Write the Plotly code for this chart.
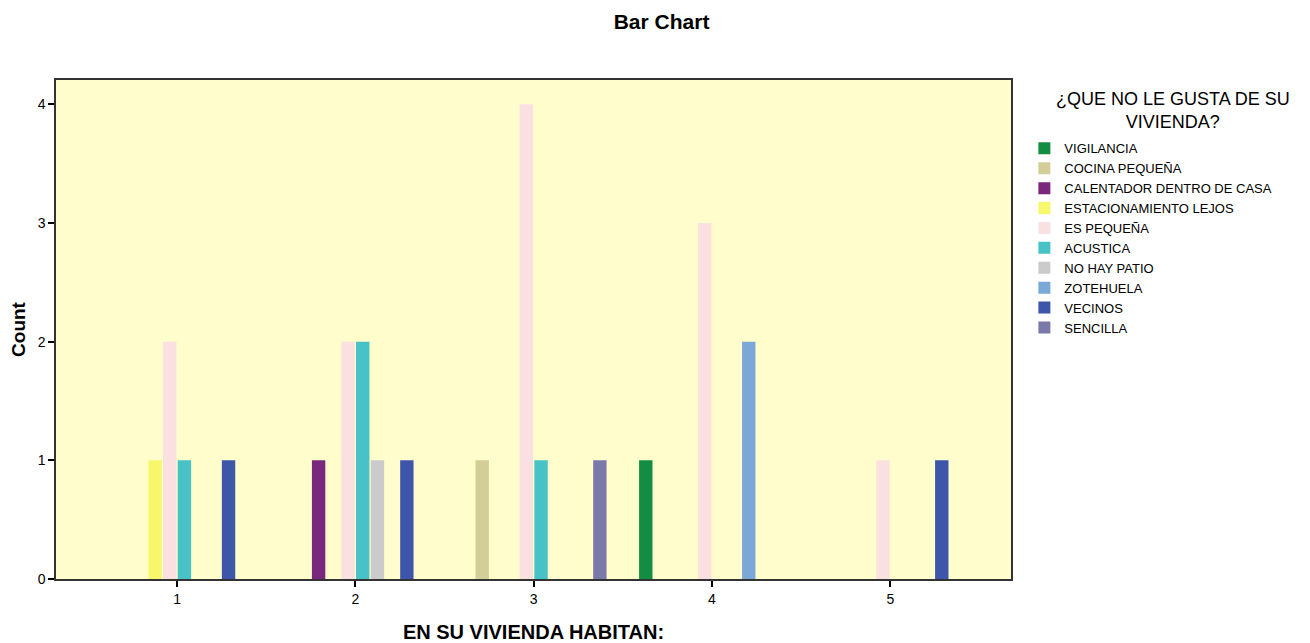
import plotly.graph_objects as go

categories = [1, 2, 3, 4, 5]
series_names = ["VIGILANCIA", "COCINA PEQUEÑA", "CALENTADOR DENTRO DE CASA",
                "ESTACIONAMIENTO LEJOS", "ES PEQUEÑA", "ACUSTICA", "NO HAY PATIO",
                "ZOTEHUELA", "VECINOS", "SENCILLA"]
vigilancia = [None, None, None, 1, None]
cocina_pequena = [None, None, 1, None, None]
calentador = [None, 1, None, None, None]
estacionamiento = [1, None, None, None, None]
es_pequena = [2, 2, 4, 3, 1]
acustica = [1, 2, 1, None, None]
no_hay_patio = [None, 1, None, None, None]
zotehuela = [None, None, None, 2, None]
vecinos = [1, 1, None, None, 1]
sencilla = [None, None, 1, None, None]
series_values = [vigilancia, cocina_pequena, calentador, estacionamiento, es_pequena,
                 acustica, no_hay_patio, zotehuela, vecinos, sencilla]
colors = ["#138d43", "#d3ce97", "#79287c", "#f8f76c", "#fbe0e2",
          "#47c2c6", "#cbcbcb", "#7ba9d7", "#3d56aa", "#7a79a9"]
y_ticks = [0, 1, 2, 3, 4]

FONT = "Liberation Sans, Arial, sans-serif"

fig = go.Figure()
for name, vals, col in zip(series_names, series_values, colors):
    fig.add_trace(go.Bar(x=categories, y=vals, name=name, marker_color=col,
                         marker_line_width=0))

fig.update_layout(
    width=1310, height=643,
    margin=dict(l=56, r=299, t=80, b=64, autoexpand=False),
    paper_bgcolor="white",
    plot_bgcolor="#fefdcb",
    barmode="group",
    bargap=0.175,
    bargroupgap=0.09,
    font=dict(family=FONT, size=14, color="black"),
    title=dict(text="<b>Bar Chart</b>", x=0.505, xanchor="center", y=0.966, yanchor="middle",
               xref="container", font=dict(size=21, family=FONT)),
    xaxis=dict(range=[0.321, 5.677], tickvals=categories, ticks="outside", ticklen=6,
               tickcolor="black", tickwidth=1.5, showgrid=False, zeroline=False,
               showline=True, mirror=True, linecolor="#333333", linewidth=1.5,
               automargin=False,
               title=dict(text="<b>EN SU VIVIENDA HABITAN:</b>", font=dict(size=20), standoff=20),
               tickfont=dict(size=14)),
    yaxis=dict(range=[0, 4.205], tickvals=y_ticks, ticks="outside", ticklen=6,
               tickcolor="black", tickwidth=1.5, showgrid=False, zeroline=False,
               showline=True, mirror=True, linecolor="#333333", linewidth=1.5,
               automargin=False,
               title=dict(text="<b>Count</b>", font=dict(size=19), standoff=7),
               tickfont=dict(size=14)),
    legend=dict(x=1.014, y=0.893, xanchor="left", yanchor="top",
                font=dict(size=13, family=FONT), tracegroupgap=0,
                itemwidth=30, bgcolor="rgba(0,0,0,0)"),
    annotations=[dict(text="¿QUE NO LE GUSTA DE SU<br>VIVIENDA?", x=1.17, y=0.985,
                      xref="paper", yref="paper", xanchor="center", yanchor="top",
                      showarrow=False, align="center",
                      font=dict(size=18, family=FONT))],
)

fig.write_html("out.html", config={"displayModeBar": False},
               post_script="document.body.style.margin='0';")
